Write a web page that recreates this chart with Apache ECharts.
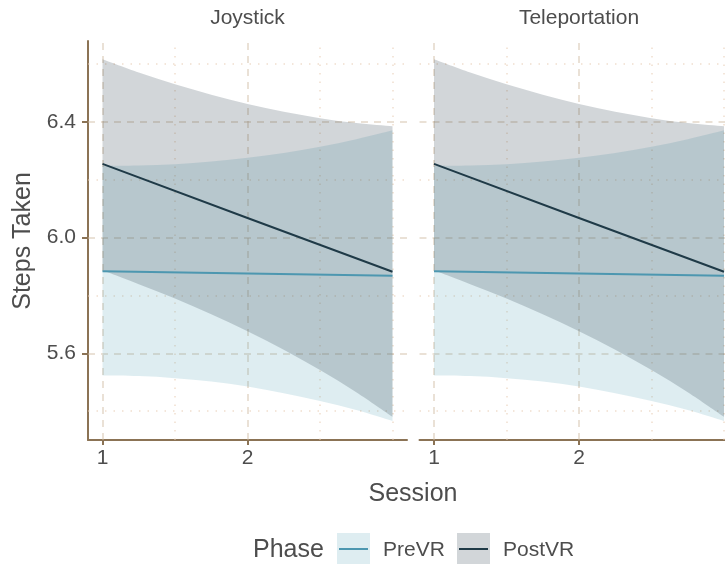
<!DOCTYPE html>
<html>
<head>
<meta charset="utf-8">
<script src="https://cdn.jsdelivr.net/npm/echarts@6/dist/echarts.min.js"></script>
<style>
  html, body { margin: 0; padding: 0; background: #ffffff; }
  #chart { width: 725px; height: 564px; }
</style>
</head>
<body>
<div id="chart"></div>
<script>
// Facets and phases
const facets = ['Joystick', 'Teleportation'];
const phases = ['PreVR', 'PostVR'];

// Axis ticks and grid positions
const sessionTicks = [1, 2];
const sessionMinor = [1.5, 2.5, 3];
const stepTicks = [5.6, 6.0, 6.4];
const stepMinor = [5.4, 5.8, 6.2, 6.6];

// Fitted lines (session 1, 2, 3)
const lineSessions = [1, 2, 3];
// Confidence ribbons
const bandSessions = [1, 1.25, 1.5, 1.75, 2, 2.25, 2.5, 2.75, 3];

// Joystick
const joystickPreFit = [5.884, 5.876, 5.868];
const joystickPreLower = [5.523, 5.521, 5.514, 5.502, 5.485, 5.462, 5.435, 5.404, 5.366];
const joystickPreUpper = [6.248, 6.249, 6.254, 6.263, 6.276, 6.293, 6.314, 6.340, 6.371];
const joystickPostFit = [6.255, 6.068, 5.882];
const joystickPostLower = [5.887, 5.839, 5.789, 5.735, 5.676, 5.612, 5.542, 5.465, 5.380];
const joystickPostUpper = [6.617, 6.571, 6.530, 6.494, 6.462, 6.435, 6.413, 6.396, 6.385];

// Teleportation
const teleportPreFit = [5.884, 5.876, 5.868];
const teleportPreLower = [5.523, 5.521, 5.514, 5.502, 5.485, 5.462, 5.435, 5.404, 5.366];
const teleportPreUpper = [6.248, 6.249, 6.254, 6.263, 6.276, 6.293, 6.314, 6.340, 6.371];
const teleportPostFit = [6.255, 6.068, 5.882];
const teleportPostLower = [5.887, 5.839, 5.789, 5.735, 5.676, 5.612, 5.542, 5.465, 5.380];
const teleportPostUpper = [6.617, 6.571, 6.530, 6.494, 6.462, 6.435, 6.413, 6.396, 6.385];

const panelData = [
  { PreVR: { fit: joystickPreFit, lower: joystickPreLower, upper: joystickPreUpper },
    PostVR: { fit: joystickPostFit, lower: joystickPostLower, upper: joystickPostUpper } },
  { PreVR: { fit: teleportPreFit, lower: teleportPreLower, upper: teleportPreUpper },
    PostVR: { fit: teleportPostFit, lower: teleportPostLower, upper: teleportPostUpper } }
];

const FONT = '"Liberation Sans", Arial, sans-serif';
const TEXT = '#4d4d4d';
const AXIS = '#8b7355';
const lineColor = { PreVR: '#4d97b0', PostVR: '#1f3a47' };
const fillColor = { PreVR: 'rgba(90,165,185,0.2)', PostVR: 'rgba(30,50,65,0.2)' };
const majorGrid = 'rgba(210,190,165,0.6)';
const minorGrid = 'rgba(232,205,180,0.65)';

// Panel geometry: both panels share the same session scale (0.9 .. 3.1);
// the second panel runs past the right edge of the canvas, so its visible
// extent ends where the canvas does.
const xMin = 0.9, xMax = 3.1;
const panelWidth = 319;
const pxPerSession = panelWidth / (xMax - xMin);
const panelLeft = [88, 419.5];
const canvasWidth = 725;
const panelVisibleWidth = panelLeft.map(l => Math.min(panelWidth, canvasWidth - l));
const panelXMax = panelVisibleWidth.map(w => xMin + w / pxPerSession);
const panelTop = 41;
const panelBottom = 124;

// Catmull-Rom curve through pixel points, as an SVG path fragment
function curvePath(pts, start) {
  let d = (start ? 'M' : 'L') + pts[0][0] + ',' + pts[0][1];
  for (let i = 0; i < pts.length - 1; i++) {
    const p0 = pts[Math.max(i - 1, 0)], p1 = pts[i], p2 = pts[i + 1];
    const p3 = pts[Math.min(i + 2, pts.length - 1)];
    const c1 = [p1[0] + (p2[0] - p0[0]) / 6, p1[1] + (p2[1] - p0[1]) / 6];
    const c2 = [p2[0] - (p3[0] - p1[0]) / 6, p2[1] - (p3[1] - p1[1]) / 6];
    d += ' C' + c1[0] + ',' + c1[1] + ' ' + c2[0] + ',' + c2[1] + ' ' + p2[0] + ',' + p2[1];
  }
  return d;
}

function ribbonSeries(idx, phase) {
  const band = panelData[idx][phase];
  return {
    type: 'custom',
    name: phase,
    xAxisIndex: idx,
    yAxisIndex: idx,
    silent: true,
    z: 2,
    clip: false,
    data: bandSessions.map((s, i) => [s, band.lower[i], band.upper[i]]),
    encode: { x: 0, y: [1, 2] },
    renderItem: function (params, api) {
      if (params.dataIndex !== 0) return;
      const up = bandSessions.map((s, i) => api.coord([s, band.upper[i]]));
      const lo = bandSessions.map((s, i) => api.coord([s, band.lower[i]])).reverse();
      const d = curvePath(up, true) + ' ' + curvePath(lo, false) + ' Z';
      return { type: 'path', shape: { pathData: d }, style: { fill: fillColor[phase] } };
    }
  };
}

function fitSeries(idx, phase) {
  return {
    type: 'line',
    name: phase,
    xAxisIndex: idx,
    yAxisIndex: idx,
    silent: true,
    z: 4,
    clip: false,
    showSymbol: false,
    data: lineSessions.map((s, i) => [s, panelData[idx][phase].fit[i]]),
    lineStyle: { color: lineColor[phase], width: 2 }
  };
}

function gridSeries(idx) {
  const items = [];
  sessionTicks.forEach(v => items.push({ xAxis: v, lineStyle: { color: majorGrid, width: 1.5, type: [7, 6] } }));
  sessionMinor.forEach(v => items.push({ xAxis: v, lineStyle: { color: minorGrid, width: 1.5, type: [1.5, 7] } }));
  stepTicks.forEach(v => items.push({ yAxis: v, lineStyle: { color: majorGrid, width: 1.5, type: [7, 6] } }));
  stepMinor.forEach(v => items.push({ yAxis: v, lineStyle: { color: minorGrid, width: 1.5, type: [1.5, 7] } }));
  return {
    type: 'line',
    xAxisIndex: idx,
    yAxisIndex: idx,
    silent: true,
    z: 1,
    data: [],
    markLine: {
      silent: true,
      z: 1,
      symbol: ['none', 'none'],
      label: { show: false },
      animation: false,
      data: items
    }
  };
}

const series = [];
[0, 1].forEach(idx => {
  series.push(gridSeries(idx));
  phases.forEach(p => series.push(ribbonSeries(idx, p)));
  phases.forEach(p => series.push(fitSeries(idx, p)));
});

const grids = panelLeft.map((left, idx) => ({
  left: left, width: panelVisibleWidth[idx], top: panelTop, bottom: panelBottom, containLabel: false
}));

const xAxes = [0, 1].map(idx => ({
  type: 'value',
  gridIndex: idx,
  min: xMin,
  max: panelXMax[idx],
  position: 'bottom',
  axisLine: { show: true, onZero: false, lineStyle: { color: AXIS, width: 2 } },
  axisTick: { show: true, customValues: sessionTicks, length: 5, lineStyle: { color: AXIS, width: 2 } },
  axisLabel: { customValues: sessionTicks, color: TEXT, fontFamily: FONT, fontSize: 21, margin: 8, formatter: v => String(v) },
  splitLine: { show: false }
}));

const yAxes = [0, 1].map(idx => ({
  type: 'value',
  gridIndex: idx,
  min: 5.3,
  max: 6.68,
  axisLine: { show: idx === 0, lineStyle: { color: AXIS, width: 2 } },
  axisTick: { show: idx === 0, customValues: stepTicks, length: 6, lineStyle: { color: AXIS, width: 2 } },
  axisLabel: { show: idx === 0, customValues: stepTicks, color: TEXT, fontFamily: FONT, fontSize: 21, margin: 12, formatter: v => v.toFixed(1) },
  splitLine: { show: false }
}));

const text = (x, y, s, size, align, extra) => Object.assign({
  type: 'text', x: x, y: y, silent: true,
  style: { text: s, fill: TEXT, font: size + 'px ' + FONT, textAlign: align, textVerticalAlign: 'middle' }
}, extra || {});

const legendItems = [
  { phase: 'PreVR', box: 337, label: 383 },
  { phase: 'PostVR', box: 457, label: 503 }
];
const graphics = [
  text(247.5, 18, facets[0], 21, 'center'),
  text(579, 18, facets[1], 21, 'center'),
  text(413, 494, 'Session', 25, 'center'),
  text(23, 241, 'Steps Taken', 25, 'center', { rotation: Math.PI / 2 }),
  text(253, 550, 'Phase', 25, 'left')
];
legendItems.forEach(it => {
  graphics.push({ type: 'rect', silent: true, shape: { x: it.box, y: 533, width: 33, height: 31 }, style: { fill: fillColor[it.phase] } });
  graphics.push({ type: 'line', silent: true, shape: { x1: it.box + 2, y1: 549, x2: it.box + 31, y2: 549 }, style: { stroke: lineColor[it.phase], lineWidth: 2 } });
  graphics.push(text(it.label, 550, it.phase, 21, 'left'));
});

const chart = echarts.init(document.getElementById('chart'), null, { renderer: 'canvas' });
chart.setOption({
  animation: false,
  backgroundColor: '#ffffff',
  grid: grids,
  xAxis: xAxes,
  yAxis: yAxes,
  series: series,
  graphic: graphics
});
</script>
</body>
</html>
